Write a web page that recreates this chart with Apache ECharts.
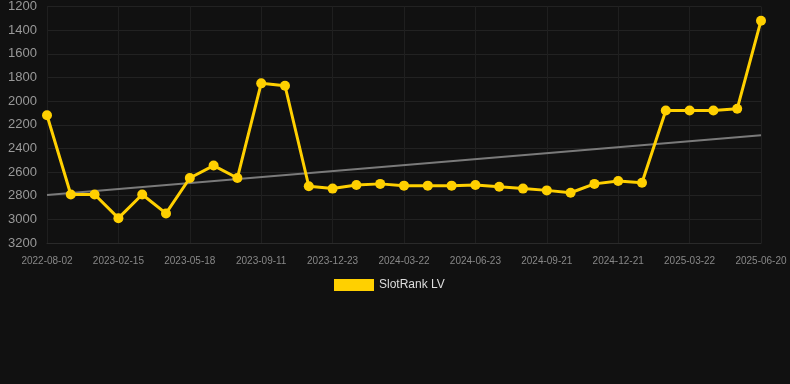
<!DOCTYPE html>
<html>
<head>
<meta charset="utf-8">
<script src="https://cdn.jsdelivr.net/npm/echarts@6/dist/echarts.min.js"></script>
<style>
html,body{margin:0;padding:0;background:#111111;}
#c{width:790px;height:384px;}
</style>
</head>
<body>
<div id="c"></div>
<script>
const categories = [
  '2022-08-02','2022-10-20','2022-12-30','2023-02-15','2023-03-18','2023-04-17',
  '2023-05-18','2023-06-24','2023-08-03','2023-09-11','2023-10-18','2023-11-20',
  '2023-12-23','2024-01-22','2024-02-21','2024-03-22','2024-04-22','2024-05-23',
  '2024-06-23','2024-07-23','2024-08-22','2024-09-21','2024-10-21','2024-11-21',
  '2024-12-21','2025-01-20','2025-02-20','2025-03-22','2025-04-21','2025-05-21',
  '2025-06-20'
];
const rankValues = [
  2120, 2790, 2790, 2990, 2790, 2950, 2650, 2545, 2650, 1850, 1870,
  2720, 2740, 2710, 2700, 2715, 2715, 2715, 2710, 2725, 2740,
  2755, 2775, 2700, 2675, 2690, 2080, 2080, 2080, 2065, 1320
];
const trendStart = 2795;
const trendEnd = 2288;
const yTicks = { min: 1200, max: 3200, interval: 200 };

const trendValues = categories.map((c, i) =>
  (i === 0) ? trendStart : (i === categories.length - 1 ? trendEnd : null));

const chart = echarts.init(document.getElementById('c'), null, { renderer: 'canvas' });
chart.setOption({
  backgroundColor: '#111111',
  animation: false,
  grid: { left: 47, right: 29, top: 5, bottom: 141, containLabel: false },
  legend: {
    data: ['SlotRank LV'],
    top: 274,
    left: 329,
    itemWidth: 40,
    itemHeight: 12,
    icon: 'rect',
    textStyle: { color: '#dddddd', fontSize: 12, fontFamily: 'Arial, Liberation Sans, sans-serif' }
  },
  xAxis: {
    type: 'category',
    data: categories,
    boundaryGap: false,
    axisLine: { show: true, lineStyle: { color: '#2a2a2a' } },
    axisTick: { show: false },
    axisLabel: {
      interval: 2,
      color: '#888888',
      fontSize: 10,
      margin: 13,
      fontFamily: 'Arial, Liberation Sans, sans-serif'
    },
    splitLine: { show: true, interval: 2, lineStyle: { color: '#1f1f1f' } }
  },
  yAxis: {
    type: 'value',
    inverse: true,
    min: yTicks.min,
    max: yTicks.max,
    interval: yTicks.interval,
    axisLine: { show: false },
    axisTick: { show: false },
    axisLabel: {
      color: '#999999',
      fontSize: 13,
      margin: 10,
      formatter: v => String(v),
      fontFamily: 'Arial, Liberation Sans, sans-serif'
    },
    splitLine: { show: true, lineStyle: { color: '#222222' } }
  },
  series: [
    {
      name: 'Trend',
      type: 'line',
      data: trendValues,
      connectNulls: true,
      symbol: 'none',
      lineStyle: { color: '#7a7a7a', width: 2 },
      z: 1,
      silent: true
    },
    {
      name: 'SlotRank LV',
      type: 'line',
      data: rankValues,
      symbol: 'circle',
      symbolSize: 10,
      itemStyle: { color: '#FFD000' },
      lineStyle: { color: '#FFD000', width: 3 },
      z: 3
    }
  ]
});
</script>
</body>
</html>
